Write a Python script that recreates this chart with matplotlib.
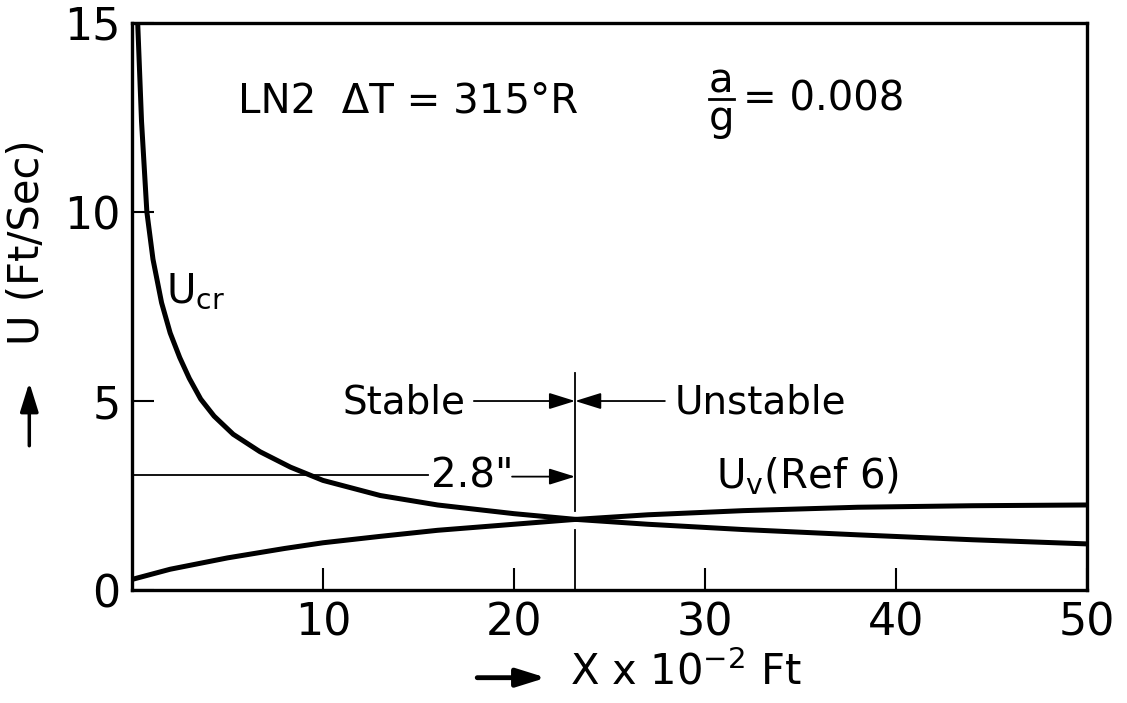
import matplotlib
matplotlib.use("Agg")
import matplotlib.pyplot as plt
from matplotlib.patches import FancyArrowPatch

plt.rcParams['font.family'] = ['DejaVu Sans']
plt.rcParams['mathtext.default'] = 'regular'

# values (x in 1e-2 ft, U in ft/s)
x_cr = [0.3, 0.5, 0.78, 1.1, 1.55, 2.0, 2.5, 3.0, 3.6, 4.3, 5.3, 6.7, 8.3,
        10, 13, 16, 20, 23.2, 27, 32, 38, 44, 50]
u_cr = [15.0, 12.4, 10.0, 8.75, 7.6, 6.8, 6.15, 5.6, 5.05, 4.6, 4.12, 3.66, 3.25,
        2.9, 2.5, 2.25, 2.02, 1.87, 1.74, 1.6, 1.46, 1.33, 1.22]

x_v = [0, 2, 5, 8, 10, 13, 16, 20, 23, 27, 32, 38, 44, 50]
u_v = [0.28, 0.55, 0.85, 1.1, 1.25, 1.42, 1.58, 1.74, 1.86, 1.99, 2.1, 2.19, 2.23, 2.25]

x_crit = 23.2          # stable / unstable boundary
u_dim = 3.05           # level of the 2.8" dimension line
x_ticks = [10, 20, 30, 40, 50]
y_ticks = [0, 5, 10, 15]

fig = plt.figure(figsize=(11.27, 7.03), dpi=100)
ax = fig.add_axes([0.1171, 0.1607, 0.8474, 0.8066])

ax.plot(x_cr, u_cr, color='black', lw=3.6, solid_capstyle='butt')
ax.plot(x_v, u_v, color='black', lw=3.6, solid_capstyle='butt')

# boundary line, broken where the curves cross
ax.plot([x_crit, x_crit], [0, 1.6], color='black', lw=1.3)
ax.plot([x_crit, x_crit], [2.1, 5.75], color='black', lw=1.3)

arw = dict(arrowstyle='-|>,head_length=0.8,head_width=0.25', mutation_scale=20,
           color='black', lw=1.3, shrinkA=0, shrinkB=0)

# dimension line 2.8"
ax.plot([0, 15.5], [u_dim, u_dim], color='black', lw=1.3)
ax.text(17.8, 3.0, '2.8"', fontsize=29, ha='center', va='center')
ax.annotate('', xy=(x_crit, 3.0), xytext=(19.9, 3.0), arrowprops=arw)

# stable / unstable
ax.text(14.25, 4.95, 'Stable', fontsize=28, ha='center', va='center')
ax.annotate('', xy=(x_crit, 5.0), xytext=(17.9, 5.0), arrowprops=arw)
ax.text(32.9, 4.95, 'Unstable', fontsize=28, ha='center', va='center')
ax.annotate('', xy=(x_crit, 5.0), xytext=(27.9, 5.0), arrowprops=arw)

ax.text(1.8, 7.9, '$U_{cr}$', fontsize=29, ha='left', va='center')
ax.text(30.6, 3.0, '$U_{v}$(Ref 6)', fontsize=29, ha='left', va='center')

# header
ax.text(5.55, 12.92, 'LN2  ΔT = 315°R', fontsize=29, ha='left', va='center')
ax.plot([30.2, 31.5], [13.0, 13.0], color='black', lw=2.0)
ax.text(30.85, 13.45, 'a', fontsize=29, ha='center', va='center')
ax.text(30.85, 12.45, 'g', fontsize=29, ha='center', va='center')
ax.text(32.0, 12.98, '= 0.008', fontsize=29, ha='left', va='center')

ax.set_xlim(0, 50)
ax.set_ylim(0, 15)
ax.set_xticks(x_ticks)
ax.set_yticks(y_ticks)
ax.tick_params(direction='in', length=16, width=1.5, labelsize=32, pad=8)
for s in ax.spines.values():
    s.set_linewidth(2.4)

# axis labels with their arrows
fig.text(0.024, 0.656, 'U (Ft/Sec)', rotation=90, fontsize=30, ha='center', va='center')
fig.patches.append(FancyArrowPatch(
    (0.026, 0.362), (0.026, 0.46), transform=fig.transFigure,
    arrowstyle='-|>,head_length=0.8,head_width=0.25', mutation_scale=22,
    color='black', lw=2.5))
fig.patches.append(FancyArrowPatch(
    (0.421, 0.036), (0.487, 0.036), transform=fig.transFigure,
    arrowstyle='-|>,head_length=0.8,head_width=0.25', mutation_scale=22,
    color='black', lw=3.5))
fig.text(0.506, 0.044, 'X x 10$^{-2}$ Ft', fontsize=30, ha='left', va='center')

fig.savefig('out.png', dpi=100)
